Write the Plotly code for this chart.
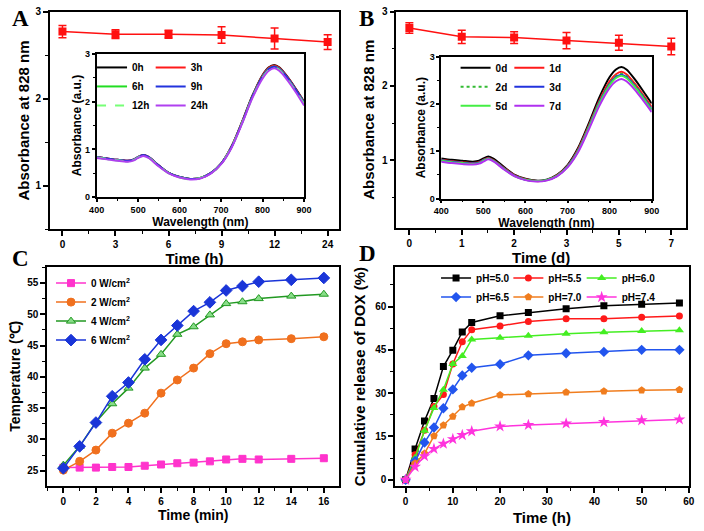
import plotly.graph_objects as go

SANS = "Liberation Sans, Arial, sans-serif"
SERIF = "Liberation Serif, Times New Roman, serif"

# ---------------- Panel A data ----------------
a_time_labels = ["0", "3", "6", "9", "12", "24"]
a_abs = [2.77, 2.74, 2.74, 2.73, 2.69, 2.65]
a_err = [0.07, 0.05, 0.045, 0.095, 0.12, 0.085]

# ---------------- Panel B data ----------------
b_time_labels = ["0", "1", "2", "3", "5", "7"]
b_abs = [2.78, 2.66, 2.65, 2.61, 2.58, 2.53]
b_err = [0.07, 0.09, 0.08, 0.11, 0.10, 0.11]

# ---------------- Inset spectra ----------------
wavelength = [400, 425, 450, 475, 490, 500, 512, 525, 550, 575, 600, 625, 650,
              675, 700, 725, 750, 775, 800, 815, 828, 840, 860, 880, 900]

a_spec_names = ["0h", "3h", "6h", "9h", "12h", "24h"]
a_spec_0h = [0.84, 0.81, 0.78, 0.76, 0.79, 0.84, 0.88, 0.84, 0.66, 0.50, 0.42, 0.38, 0.40,
             0.50, 0.70, 1.06, 1.57, 2.12, 2.56, 2.72, 2.77, 2.72, 2.52, 2.27, 2.00]
a_spec_3h = [0.84, 0.81, 0.78, 0.76, 0.79, 0.84, 0.88, 0.84, 0.66, 0.50, 0.42, 0.38, 0.40,
             0.50, 0.70, 1.06, 1.56, 2.11, 2.55, 2.71, 2.76, 2.71, 2.51, 2.26, 1.99]
a_spec_6h = [0.83, 0.80, 0.77, 0.75, 0.78, 0.83, 0.87, 0.83, 0.65, 0.50, 0.42, 0.38, 0.40,
             0.50, 0.70, 1.05, 1.55, 2.10, 2.53, 2.69, 2.74, 2.69, 2.49, 2.24, 1.97]
a_spec_9h = [0.84, 0.81, 0.78, 0.76, 0.79, 0.84, 0.88, 0.84, 0.66, 0.50, 0.42, 0.38, 0.40,
             0.50, 0.70, 1.05, 1.55, 2.10, 2.53, 2.69, 2.74, 2.69, 2.50, 2.25, 1.98]
a_spec_12h = [0.83, 0.80, 0.77, 0.75, 0.78, 0.83, 0.87, 0.83, 0.65, 0.49, 0.41, 0.37, 0.40,
              0.49, 0.69, 1.04, 1.54, 2.08, 2.51, 2.67, 2.72, 2.67, 2.47, 2.22, 1.95]
a_spec_24h = [0.82, 0.79, 0.76, 0.74, 0.77, 0.82, 0.86, 0.82, 0.64, 0.49, 0.41, 0.37, 0.39,
              0.49, 0.69, 1.03, 1.53, 2.07, 2.49, 2.65, 2.70, 2.65, 2.45, 2.20, 1.92]

b_spec_names = ["0d", "1d", "2d", "3d", "5d", "7d"]
b_spec_0d = [0.85, 0.82, 0.80, 0.78, 0.80, 0.85, 0.89, 0.84, 0.66, 0.50, 0.42, 0.38, 0.40,
             0.50, 0.71, 1.07, 1.58, 2.13, 2.57, 2.73, 2.78, 2.73, 2.52, 2.27, 2.01]
b_spec_1d = [0.82, 0.79, 0.77, 0.75, 0.77, 0.82, 0.86, 0.81, 0.64, 0.49, 0.41, 0.37, 0.39,
             0.49, 0.69, 1.04, 1.53, 2.06, 2.48, 2.63, 2.68, 2.63, 2.43, 2.19, 1.94]
b_spec_2d = [0.81, 0.78, 0.76, 0.74, 0.76, 0.81, 0.85, 0.80, 0.63, 0.48, 0.40, 0.37, 0.39,
             0.48, 0.68, 1.02, 1.51, 2.03, 2.44, 2.59, 2.64, 2.59, 2.40, 2.16, 1.91]
b_spec_3d = [0.81, 0.78, 0.76, 0.74, 0.76, 0.81, 0.85, 0.80, 0.63, 0.48, 0.40, 0.37, 0.39,
             0.48, 0.68, 1.01, 1.50, 2.02, 2.42, 2.57, 2.62, 2.57, 2.38, 2.14, 1.89]
b_spec_5d = [0.80, 0.77, 0.75, 0.73, 0.75, 0.80, 0.84, 0.79, 0.62, 0.47, 0.40, 0.37, 0.39,
             0.48, 0.67, 1.00, 1.49, 2.00, 2.40, 2.55, 2.60, 2.55, 2.36, 2.12, 1.87]
b_spec_7d = [0.78, 0.75, 0.73, 0.72, 0.74, 0.78, 0.83, 0.78, 0.61, 0.47, 0.39, 0.36, 0.38,
             0.47, 0.66, 0.98, 1.45, 1.95, 2.34, 2.48, 2.53, 2.48, 2.30, 2.07, 1.83]

# ---------------- Panel C data ----------------
c_time = [0, 1, 2, 3, 4, 5, 6, 7, 8, 9, 10, 11, 12, 14, 16]
c_names = ["0 W/cm<sup>2</sup>", "2 W/cm<sup>2</sup>", "4 W/cm<sup>2</sup>", "6 W/cm<sup>2</sup>"]
c_0w = [25.5, 25.5, 25.5, 25.6, 25.6, 25.8, 26.0, 26.2, 26.3, 26.5, 26.8, 26.9, 26.8, 26.9, 27.0]
c_2w = [25.1, 26.5, 28.3, 31.0, 32.6, 34.2, 37.4, 39.5, 41.4, 43.7, 45.3, 45.6, 45.9, 46.1, 46.4]
c_4w = [25.9, 28.9, 32.8, 35.7, 38.2, 41.4, 43.6, 46.8, 48.0, 49.9, 51.7, 52.0, 52.5, 52.9, 53.2]
c_6w = [25.4, 28.9, 32.7, 36.9, 39.1, 42.8, 45.9, 48.2, 50.5, 51.9, 53.8, 54.5, 55.2, 55.5, 55.8]

# ---------------- Panel D data ----------------
d_time = [0, 2, 4, 6, 8, 10, 12, 14, 20, 26, 34, 42, 50, 58]
d_names = ["pH=5.0", "pH=5.5", "pH=6.0", "pH=6.5", "pH=7.0", "pH=7.4"]
d_ph50 = [0, 10.7, 20.4, 28.2, 39.2, 44.9, 51.2, 54.5, 56.8, 57.9, 59.2, 60.3, 60.8, 61.2]
d_ph55 = [0, 8.7, 17.2, 25.4, 29.5, 40.1, 47.8, 52.0, 53.3, 54.8, 55.8, 55.8, 56.3, 56.7]
d_ph60 = [0, 7.6, 17.0, 24.9, 31.2, 40.1, 42.9, 48.6, 49.2, 49.9, 50.6, 51.1, 51.5, 51.8]
d_ph65 = [0, 6.5, 12.9, 18.1, 24.8, 31.3, 36.1, 38.8, 40.0, 43.1, 43.8, 44.3, 45.0, 45.0]
d_ph70 = [0, 5.7, 9.1, 15.2, 18.9, 21.9, 25.2, 26.5, 29.4, 29.7, 30.3, 30.7, 31.0, 31.2]
d_ph74 = [0, 4.5, 8.2, 10.7, 12.5, 14.1, 15.5, 16.8, 18.5, 19.0, 19.5, 20.0, 20.6, 20.9]

W, H = 704, 531


def px_x(v):
    return v / W


def px_y(v):
    return 1 - v / H


fig = go.Figure()

# ---- Panel A main ----
fig.add_trace(go.Scatter(
    x=list(range(len(a_time_labels))), y=a_abs, mode="lines+markers",
    line=dict(color="#ff1010", width=1.5),
    marker=dict(symbol="square", size=8, color="#ff1010"),
    error_y=dict(type="data", array=a_err, color="#ff1010", thickness=1.5, width=4),
    xaxis="x", yaxis="y", showlegend=False))

# ---- Panel A inset ----
a_specs = [a_spec_0h, a_spec_3h, a_spec_6h, a_spec_9h, a_spec_12h, a_spec_24h]
a_colors = ["#000000", "#ff1a1a", "#22dd22", "#2233dd", "#77ff77", "#b040f0"]
a_dash = ["solid", "solid", "solid", "solid", "dash", "solid"]
a_leg = ["legend", "legend2", "legend", "legend2", "legend", "legend2"]
for nm, sp, col, ds, lg in zip(a_spec_names, a_specs, a_colors, a_dash, a_leg):
    fig.add_trace(go.Scatter(
        x=wavelength, y=sp, mode="lines", name="<b>%s</b>" % nm,
        line=dict(color=col, width=2, dash=ds, shape="spline", smoothing=0.8),
        xaxis="x2", yaxis="y2", legend=lg))

# ---- Panel B main ----
fig.add_trace(go.Scatter(
    x=list(range(len(b_time_labels))), y=b_abs, mode="lines+markers",
    line=dict(color="#ff1010", width=1.5),
    marker=dict(symbol="square", size=8, color="#ff1010"),
    error_y=dict(type="data", array=b_err, color="#ff1010", thickness=1.5, width=4),
    xaxis="x3", yaxis="y3", showlegend=False))

# ---- Panel B inset ----
b_specs = [b_spec_0d, b_spec_1d, b_spec_2d, b_spec_3d, b_spec_5d, b_spec_7d]
b_colors = ["#000000", "#ff1a1a", "#33bb33", "#2233dd", "#44ee44", "#b030f0"]
b_dash = ["solid", "solid", "dot", "solid", "solid", "solid"]
b_leg = ["legend3", "legend4", "legend3", "legend4", "legend3", "legend4"]
for nm, sp, col, ds, lg in zip(b_spec_names, b_specs, b_colors, b_dash, b_leg):
    fig.add_trace(go.Scatter(
        x=wavelength, y=sp, mode="lines", name="<b>%s</b>" % nm,
        line=dict(color=col, width=2, dash=ds, shape="spline", smoothing=0.8),
        xaxis="x4", yaxis="y4", legend=lg))

# ---- Panel C ----
c_series = [c_0w, c_2w, c_4w, c_6w]
c_line_colors = ["#ff33cc", "#f0701e", "#229922", "#1a35d8"]
c_fill_colors = ["#ff33cc", "#f0701e", "#88dd88", "#1a35d8"]
c_symbols = ["square", "circle", "triangle-up", "diamond"]
c_sizes = [7, 8, 8, 9]
for nm, ys, lc, fc, sy, sz in zip(c_names, c_series, c_line_colors, c_fill_colors, c_symbols, c_sizes):
    fig.add_trace(go.Scatter(
        x=c_time, y=ys, mode="lines+markers", name="<b>%s</b>" % nm,
        line=dict(color=lc, width=1.5),
        marker=dict(symbol=sy, size=sz, color=fc, line=dict(color=lc, width=1)),
        xaxis="x5", yaxis="y5", legend="legend5"))

# ---- Panel D ----
d_series = [d_ph50, d_ph55, d_ph60, d_ph65, d_ph70, d_ph74]
d_colors = ["#000000", "#ff1a1a", "#44ee22", "#2255ee", "#f07d1e", "#ff33dd"]
d_symbols = ["square", "circle", "triangle-up", "diamond", "pentagon", "star"]
d_sizes = [7, 7, 8, 8, 8, 9]
d_leg = ["legend6", "legend7", "legend8", "legend6", "legend7", "legend8"]
for nm, ys, col, sy, sz, lg in zip(d_names, d_series, d_colors, d_symbols, d_sizes, d_leg):
    fig.add_trace(go.Scatter(
        x=d_time, y=ys, mode="lines+markers", name="<b>%s</b>" % nm,
        line=dict(color=col, width=1.5),
        marker=dict(symbol=sy, size=sz, color=col),
        xaxis="x6", yaxis="y6", legend=lg))


def axis(domain, rng, title, fsize=15, tsize=10, standoff=3, ticklen=5, minor_dtick=None,
         anchor=None, **kw):
    d = dict(domain=domain, range=rng, showline=True, linecolor="black", linewidth=1.5,
             mirror=True, ticks="outside", ticklen=ticklen, tickwidth=1.5, tickcolor="black",
             showgrid=False, zeroline=False, anchor=anchor,
             tickfont=dict(family=SANS, size=tsize, color="black", weight="bold"),
             title=dict(text=title, standoff=standoff,
                        font=dict(family=SANS, size=fsize, color="black", weight="bold")))
    if minor_dtick is not None:
        d["minor"] = dict(ticks="outside", ticklen=max(2, ticklen - 2), tickwidth=1.2,
                          tickcolor="black", dtick=minor_dtick, showgrid=False)
    d.update(kw)
    return d


layout = dict(
    width=W, height=H, margin=dict(l=0, r=0, t=0, b=0),
    paper_bgcolor="white", plot_bgcolor="white",
    # Panel A main
    xaxis=axis([px_x(42.7), px_x(339)], [-0.24, 5.22], "Time (h)", standoff=3,
               anchor="y", tickmode="array", tickvals=list(range(len(a_time_labels))),
               ticktext=a_time_labels,
               minor=dict(ticks="outside", ticklen=3, tickwidth=1.2, tickcolor="black",
                          tick0=0.5, dtick=1)),
    yaxis=axis([px_y(228.7), px_y(6.7)], [0.5, 3.0], "Absorbance at 828 nm", standoff=2,
               anchor="x", dtick=1, tick0=0, minor_dtick=0.5),
    # Panel A inset
    xaxis2=axis([px_x(90.7), px_x(303)], [400, 900], "Wavelength (nm)", fsize=12, tsize=9,
                standoff=0, ticklen=3, anchor="y2", dtick=100, minor_dtick=50),
    yaxis2=axis([px_y(195.7), px_y(50)], [0, 3], "Absorbance (a.u.)", fsize=12, tsize=9,
                standoff=1, ticklen=3, anchor="x2", dtick=1, minor_dtick=0.5),
    # Panel B main
    xaxis3=axis([px_x(397.3), px_x(693.7)], [-0.25, 5.28], "Time (d)", standoff=1,
                anchor="y3", tickmode="array", tickvals=list(range(len(b_time_labels))),
                ticktext=b_time_labels,
                minor=dict(ticks="outside", ticklen=3, tickwidth=1.2, tickcolor="black",
                           tick0=0.5, dtick=1)),
    yaxis3=axis([px_y(227.3), px_y(6.7)], [0.09, 3.0], "Absorbance at 828 nm", standoff=4,
                anchor="x3", dtick=1, tick0=0, minor_dtick=0.5),
    # Panel B inset
    xaxis4=axis([px_x(443.3), px_x(658.7)], [400, 900], "Wavelength (nm)", fsize=12, tsize=9,
                standoff=0, ticklen=3, anchor="y4", dtick=100, minor_dtick=50),
    yaxis4=axis([px_y(197.3), px_y(52.7)], [0, 3], "Absorbance (a.u.)", fsize=12, tsize=9,
                standoff=1, ticklen=3, anchor="x4", dtick=1, minor_dtick=0.5),
    # Panel C
    xaxis5=axis([px_x(40), px_x(339)], [-1.0, 16.95], "Time (min)", fsize=14, standoff=2,
                anchor="y5", dtick=2, tick0=0, minor_dtick=1),
    yaxis5=axis([px_y(490), px_y(266.7)], [22.6, 57.6], "Temperature (℃)", fsize=14, standoff=3,
                anchor="x5", dtick=5, tick0=0, minor_dtick=2.5),
    # Panel D
    xaxis6=axis([px_x(396), px_x(696.7)], [-2.25, 60], "Time (h)", standoff=6,
                anchor="y6", dtick=10, tick0=0, minor_dtick=5),
    yaxis6=axis([px_y(490.7), px_y(266.7)], [-2.3, 73.8], "Cumulative release of DOX (%)",
                standoff=6, anchor="x6", dtick=15, tick0=0, minor_dtick=7.5),
)


def leg(x, ymid, size=10):
    return dict(x=x, y=ymid, xanchor="left", yanchor="middle", bgcolor="rgba(0,0,0,0)",
                borderwidth=0, tracegroupgap=0, itemwidth=30,
                font=dict(family=SANS, size=size, color="black"))


layout["legend"] = leg(px_x(86), px_y(83))
layout["legend2"] = leg(px_x(146), px_y(83))
layout["legend3"] = leg(px_x(458), px_y(83.3))
layout["legend4"] = leg(px_x(513), px_y(83.3))
layout["legend5"] = leg(px_x(44), px_y(312.5))
layout["legend6"] = leg(px_x(438), px_y(288))
layout["legend7"] = leg(px_x(512), px_y(288))
layout["legend8"] = leg(px_x(587), px_y(288))

panel_labels = ["A", "B", "C", "D"]
label_pos = [(2, 14), (357, 14), (2, 258), (357, 253)]
annotations = []
for t, (lx, ly) in zip(panel_labels, label_pos):
    annotations.append(dict(text="<b>%s</b>" % t, x=px_x(lx), y=px_y(ly), xref="paper",
                            yref="paper", xanchor="left", yanchor="middle", showarrow=False,
                            font=dict(family=SERIF, size=23, color="black")))
layout["annotations"] = annotations

fig.update_layout(**layout)
fig.write_html("out.html")
